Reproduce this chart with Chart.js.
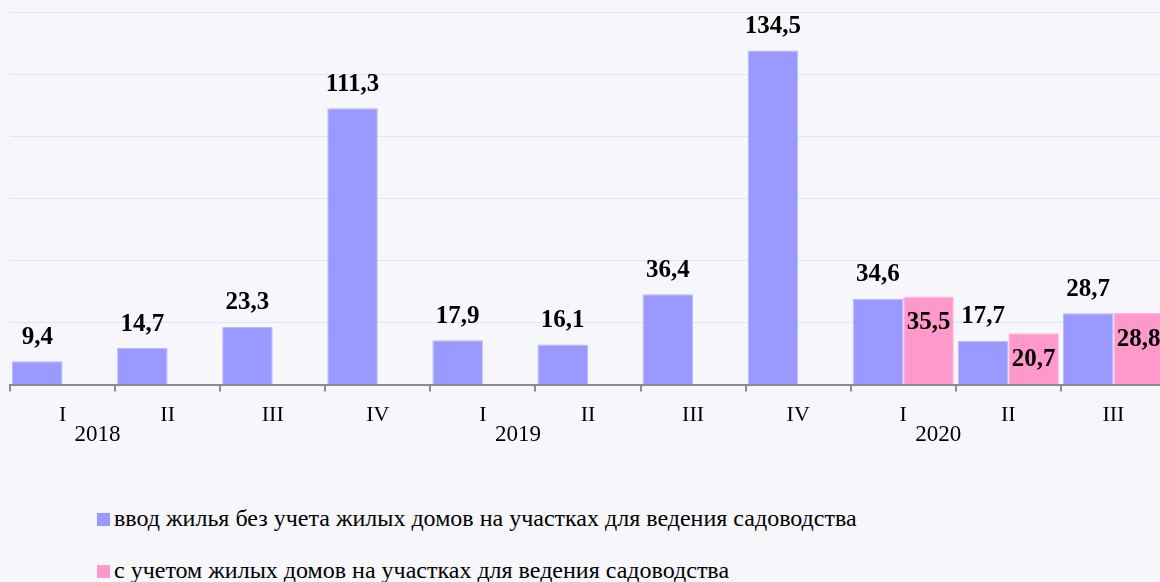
<!DOCTYPE html>
<html lang="ru">
<head>
<meta charset="utf-8">
<title>Ввод жилья</title>
<script src="https://cdn.jsdelivr.net/npm/chart.js@4/dist/chart.umd.min.js"></script>
<style>
  html, body { margin: 0; padding: 0; background: #f6f6fb; overflow: hidden; }
  #wrap { position: relative; width: 1160px; height: 582px; overflow: hidden; }
  #grafico { position: absolute; left: 0; top: 0; }
  .leyenda { position: absolute; left: 97px; font: 24px "Liberation Serif", "Times New Roman", serif; color: #000; white-space: nowrap; }
  .leyenda span.cuadro { position: absolute; left: 0; width: 13px; height: 13px; }
  .leyenda span.texto { position: absolute; left: 17px; top: -8px; line-height: 26px; }
</style>
</head>
<body>
<div id="wrap">
  <canvas id="grafico" width="1166" height="460"></canvas>
</div>
<script>
// Datos del gráfico
const trimestres = ['I', 'II', 'III', 'IV', 'I', 'II', 'III', 'IV', 'I', 'II', 'III'];
const anios = ['2018', '2019', '2020'];
const inicioAnio = [0, 4, 8]; // índice del primer trimestre de cada año
const sinSadovodstvo = [9.4, 14.7, 23.3, 111.3, 17.9, 16.1, 36.4, 134.5, 34.6, 17.7, 28.7];
const conSadovodstvo = [null, null, null, null, null, null, null, null, 35.5, 20.7, 28.8];
const etiquetas = [
    'ввод жилья без учета жилых домов на участках для ведения садоводства',
    'с учетом жилых домов на участках для ведения садоводства'
];

const fuente = '"Liberation Serif", "Times New Roman", serif';

// Etiquetas de valor sobre / dentro de las barras
const etiquetasValor = {
    id: 'etiquetasValor',
    afterDatasetsDraw(chart) {
        const ctx = chart.ctx;
        ctx.save();
        ctx.font = 'bold 25px ' + fuente;
        ctx.fillStyle = '#000';
        ctx.textAlign = 'center';
        ctx.textBaseline = 'middle';
        chart.data.datasets.forEach((ds, i) => {
            const meta = chart.getDatasetMeta(i);
            meta.data.forEach((bar, j) => {
                const v = ds.data[j];
                if (v === null) return;
                const txt = v.toFixed(1).replace('.', ',');
                const y = i === 0 ? bar.y - 24 : bar.y + 26;
                ctx.fillText(txt, bar.x, y);
            });
        });
        ctx.restore();
    }
};

// Años debajo de los trimestres
const etiquetasAnio = {
    id: 'etiquetasAnio',
    afterDraw(chart) {
        const ctx = chart.ctx;
        const x = chart.scales.x;
        ctx.save();
        ctx.font = '23px ' + fuente;
        ctx.fillStyle = '#000';
        ctx.textAlign = 'center';
        ctx.textBaseline = 'middle';
        anios.forEach((a, k) => {
            ctx.fillText(a, x.getPixelForValue(inicioAnio[k]) + 35, x.bottom - 3);
        });
        ctx.restore();
    }
};

const datos = {
    labels: trimestres,
    datasets: [{
        label: etiquetas[0],
        data: sinSadovodstvo,
        backgroundColor: '#9999ff',
        borderColor: '#b9b9ff',
        borderWidth: 1,
        categoryPercentage: 0.962,
        barPercentage: 1
    }, {
        label: etiquetas[1],
        data: conSadovodstvo,
        backgroundColor: '#ff99cc',
        borderColor: '#ffb8dc',
        borderWidth: 1,
        categoryPercentage: 0.962,
        barPercentage: 1
    }]
};

const grafico = new Chart(document.getElementById('grafico').getContext('2d'), {
    type: 'bar',
    data: datos,
    options: {
        responsive: false,
        animation: false,
        layout: { padding: { left: 10, top: 12, right: 0, bottom: 22 } },
        plugins: {
            legend: { display: false },
            tooltip: { enabled: false }
        },
        scales: {
            x: {
                grid: { offset: true, drawOnChartArea: false, drawTicks: true, tickLength: 7, color: '#8c8c8c', lineWidth: 2 },
                border: { color: '#8c8c8c', width: 2 },
                ticks: { color: '#000', font: { family: fuente, size: 22 }, padding: 10, maxRotation: 0, autoSkip: false }
            },
            y: {
                min: 0,
                max: 150,
                grid: { color: '#dde6f4', drawTicks: false },
                border: { display: false },
                ticks: { display: false, stepSize: 25, padding: 0 }
            }
        }
    },
    plugins: [etiquetasValor, etiquetasAnio]
});

// Leyenda en HTML, tomada de los datasets
const wrap = document.getElementById('wrap');
grafico.data.datasets.forEach((ds, i) => {
    const item = document.createElement('div');
    item.className = 'leyenda';
    item.style.top = (513 + i * 52) + 'px';
    const cuadro = document.createElement('span');
    cuadro.className = 'cuadro';
    cuadro.style.background = ds.backgroundColor;
    const texto = document.createElement('span');
    texto.className = 'texto';
    texto.textContent = ds.label;
    item.appendChild(cuadro);
    item.appendChild(texto);
    wrap.appendChild(item);
});
</script>
</body>
</html>
